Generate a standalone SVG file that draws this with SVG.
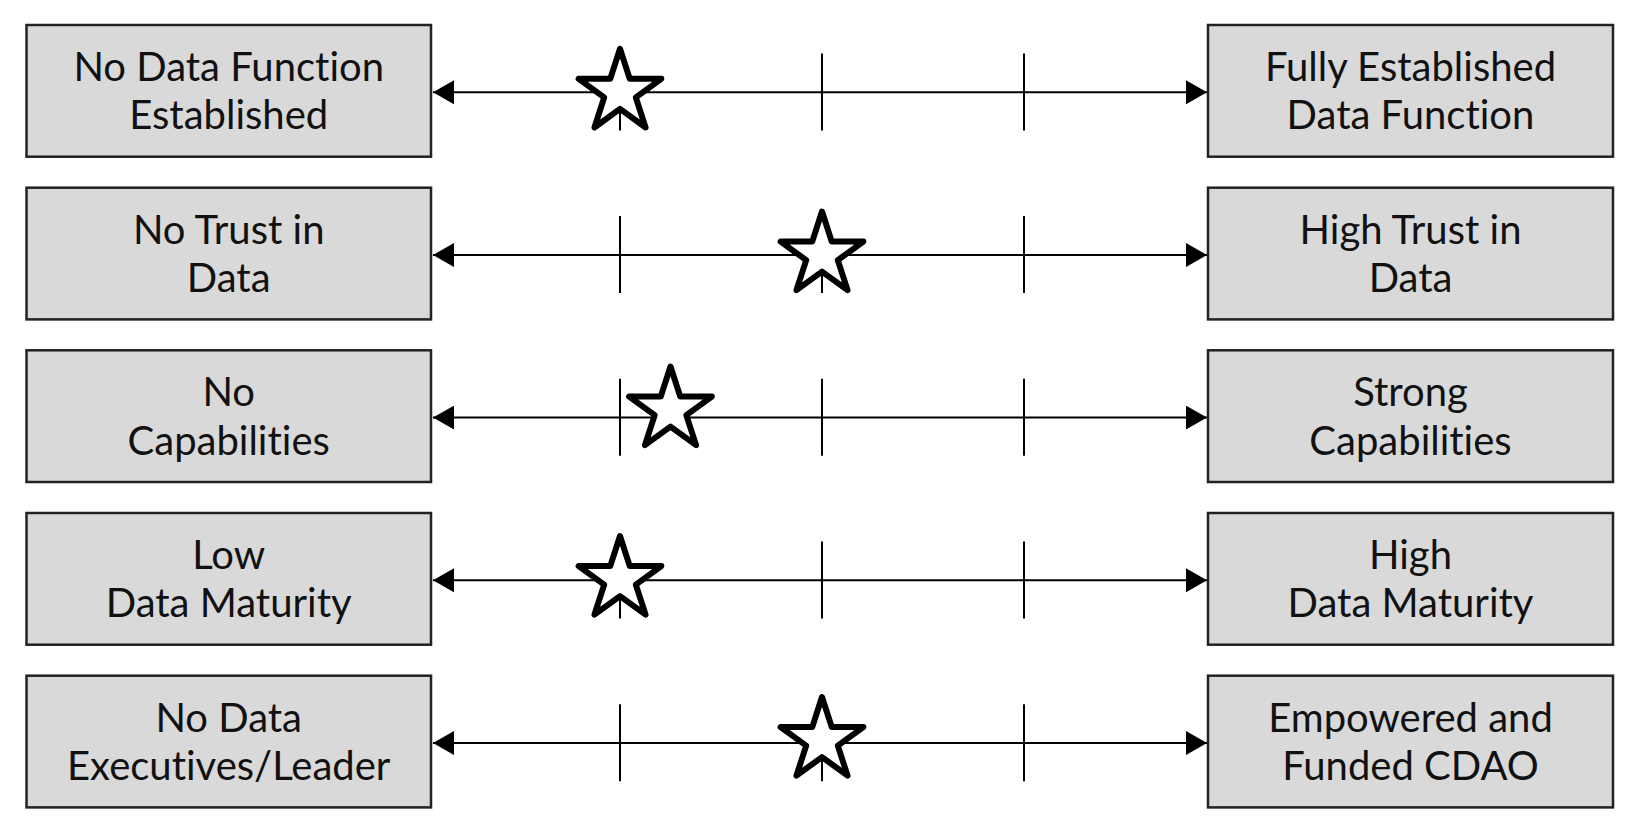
<svg xmlns="http://www.w3.org/2000/svg" xmlns:xlink="http://www.w3.org/1999/xlink" width="1640" height="838" viewBox="0 0 1640 838">
<style>
.box{fill:#d9d9d9;stroke:#222;stroke-width:2.5}
.lbl{font-family:Lato,"Noto Sans","Liberation Sans",sans-serif;font-size:40px;fill:#111;text-anchor:middle;font-variant-ligatures:none;font-feature-settings:"liga" 0}
.axis{stroke:#000;stroke-width:2;fill:none}
.tick{stroke:#000;stroke-width:2}
.star{fill:#fff;stroke:#000;stroke-width:6;stroke-linejoin:round}
</style>
<defs>
<marker id="ah" markerUnits="userSpaceOnUse" markerWidth="21" markerHeight="24" refX="21" refY="12" orient="auto-start-reverse">
<path d="M0,0 L21,12 L0,24 z" fill="#000"/>
</marker>
<path id="starShape" d="M0,-43.5 L9.76,-13.43 L41.37,-13.44 L15.79,5.13 L25.57,35.19 L0,16.6 L-25.57,35.19 L-15.79,5.13 L-41.37,-13.44 L-9.76,-13.43 Z"/>
</defs>
<rect width="1640" height="838" fill="#fff"/>
<g id="connectors">
<g id="scale1">
<line class="axis" x1="433" y1="92.3" x2="1207" y2="92.3" marker-start="url(#ah)" marker-end="url(#ah)"/>
<line class="tick" x1="620" y1="53.5" x2="620" y2="130.5"/>
<line class="tick" x1="822" y1="53.5" x2="822" y2="130.5"/>
<line class="tick" x1="1024" y1="53.5" x2="1024" y2="130.5"/>
</g>
<g id="scale2">
<line class="axis" x1="433" y1="255" x2="1207" y2="255" marker-start="url(#ah)" marker-end="url(#ah)"/>
<line class="tick" x1="620" y1="216" x2="620" y2="293"/>
<line class="tick" x1="822" y1="216" x2="822" y2="293"/>
<line class="tick" x1="1024" y1="216" x2="1024" y2="293"/>
</g>
<g id="scale3">
<line class="axis" x1="433" y1="417.6" x2="1207" y2="417.6" marker-start="url(#ah)" marker-end="url(#ah)"/>
<line class="tick" x1="620" y1="378.8" x2="620" y2="455.8"/>
<line class="tick" x1="822" y1="378.8" x2="822" y2="455.8"/>
<line class="tick" x1="1024" y1="378.8" x2="1024" y2="455.8"/>
</g>
<g id="scale4">
<line class="axis" x1="433" y1="580.3" x2="1207" y2="580.3" marker-start="url(#ah)" marker-end="url(#ah)"/>
<line class="tick" x1="620" y1="541.5" x2="620" y2="618.5"/>
<line class="tick" x1="822" y1="541.5" x2="822" y2="618.5"/>
<line class="tick" x1="1024" y1="541.5" x2="1024" y2="618.5"/>
</g>
<g id="scale5">
<line class="axis" x1="433" y1="743" x2="1207" y2="743" marker-start="url(#ah)" marker-end="url(#ah)"/>
<line class="tick" x1="620" y1="704.2" x2="620" y2="781.2"/>
<line class="tick" x1="822" y1="704.2" x2="822" y2="781.2"/>
<line class="tick" x1="1024" y1="704.2" x2="1024" y2="781.2"/>
</g>
</g>
<g id="stars">
<use id="star1" xlink:href="#starShape" href="#starShape" class="star" transform="translate(620,92.3)"/>
<use id="star2" xlink:href="#starShape" href="#starShape" class="star" transform="translate(822,255)"/>
<use id="star3" xlink:href="#starShape" href="#starShape" class="star" transform="translate(670.5,410)"/>
<use id="star4" xlink:href="#starShape" href="#starShape" class="star" transform="translate(620,579.5)"/>
<use id="star5" xlink:href="#starShape" href="#starShape" class="star" transform="translate(822,740.5)"/>
</g>
<g id="left1"><rect class="box" x="26.5" y="25" width="404.5" height="131.7"/><text class="lbl" x="228.7" y="81">No Data Function</text><text class="lbl" x="228.7" y="129.3">Established</text></g>
<g id="right1"><rect class="box" x="1208" y="25" width="405" height="131.7"/><text class="lbl" x="1410.5" y="81">Fully Established</text><text class="lbl" x="1410.5" y="129.3">Data Function</text></g>
<g id="left2"><rect class="box" x="26.5" y="187.7" width="404.5" height="131.7"/><text class="lbl" x="228.7" y="243.7">No Trust in</text><text class="lbl" x="228.7" y="292">Data</text></g>
<g id="right2"><rect class="box" x="1208" y="187.7" width="405" height="131.7"/><text class="lbl" x="1410.5" y="243.7">High Trust in</text><text class="lbl" x="1410.5" y="292">Data</text></g>
<g id="left3"><rect class="box" x="26.5" y="350.3" width="404.5" height="131.7"/><text class="lbl" x="228.7" y="406.3">No</text><text class="lbl" x="228.7" y="454.6">Capabilities</text></g>
<g id="right3"><rect class="box" x="1208" y="350.3" width="405" height="131.7"/><text class="lbl" x="1410.5" y="406.3">Strong</text><text class="lbl" x="1410.5" y="454.6">Capabilities</text></g>
<g id="left4"><rect class="box" x="26.5" y="513" width="404.5" height="131.7"/><text class="lbl" x="228.7" y="569">Low</text><text class="lbl" x="228.7" y="617.3">Data Maturity</text></g>
<g id="right4"><rect class="box" x="1208" y="513" width="405" height="131.7"/><text class="lbl" x="1410.5" y="569">High</text><text class="lbl" x="1410.5" y="617.3">Data Maturity</text></g>
<g id="left5"><rect class="box" x="26.5" y="675.7" width="404.5" height="131.7"/><text class="lbl" x="228.7" y="731.7">No Data</text><text class="lbl" x="228.7" y="780">Executives/Leader</text></g>
<g id="right5"><rect class="box" x="1208" y="675.7" width="405" height="131.7"/><text class="lbl" x="1410.5" y="731.7">Empowered and</text><text class="lbl" x="1410.5" y="780">Funded CDAO</text></g>
</svg>
